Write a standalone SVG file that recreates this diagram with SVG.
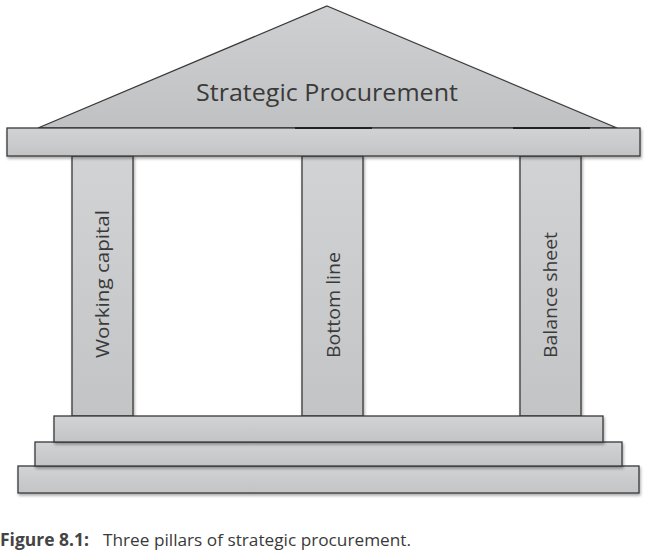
<svg xmlns="http://www.w3.org/2000/svg" width="648" height="550" viewBox="0 0 648 550">
<defs>
<linearGradient id="g" x1="0" y1="0" x2="0" y2="1">
<stop offset="0" stop-color="#d2d3d5"/>
<stop offset="1" stop-color="#c3c4c6"/>
</linearGradient>
<linearGradient id="gt" x1="0" y1="0" x2="0" y2="1">
<stop offset="0" stop-color="#cfd0d2"/>
<stop offset="1" stop-color="#c0c1c3"/>
</linearGradient>
<filter id="sh" x="-10%" y="-10%" width="120%" height="130%">
<feGaussianBlur in="SourceAlpha" stdDeviation="1.5"/>
<feOffset dx="1" dy="2" result="b"/>
<feComponentTransfer><feFuncA type="linear" slope="0.35"/></feComponentTransfer>
<feMerge><feMergeNode/><feMergeNode in="SourceGraphic"/></feMerge>
</filter>
</defs>
<style>
.s{fill:url(#g);stroke:#3a3a3a;stroke-width:1.3;filter:url(#sh)}
.t{font-family:"Open Sans","Liberation Sans",sans-serif;fill:#3a3a3a}
.p{font-family:"Open Sans","Liberation Sans",sans-serif;font-size:19px;fill:#3a3a3a}
</style>
<g id="roof">
<polygon points="327,6 617,128 38,128" fill="url(#gt)" stroke="#3a3a3a" stroke-width="1.3" filter="url(#sh)"/>
<text class="t" x="327" y="101" font-size="24" text-anchor="middle" textLength="262" lengthAdjust="spacingAndGlyphs">Strategic Procurement</text>
</g>
<g id="pillar-left">
<rect class="s" x="72" y="156" width="61" height="260"/>
<text class="p" transform="translate(109,358) rotate(-90)" textLength="148" lengthAdjust="spacingAndGlyphs">Working capital</text>
</g>
<g id="pillar-middle">
<rect class="s" x="302" y="156" width="61" height="260"/>
<text class="p" transform="translate(340,358) rotate(-90)" textLength="106" lengthAdjust="spacingAndGlyphs">Bottom line</text>
</g>
<g id="pillar-right">
<rect class="s" x="520" y="156" width="61" height="260"/>
<text class="p" transform="translate(557,358) rotate(-90)" textLength="126" lengthAdjust="spacingAndGlyphs">Balance sheet</text>
</g>
<g id="beam">
<rect class="s" x="7" y="128" width="633" height="28"/>
<line x1="295" y1="128" x2="372" y2="128" stroke="#222" stroke-width="2"/>
<line x1="513" y1="128" x2="590" y2="128" stroke="#222" stroke-width="2"/>
</g>
<g id="step-bottom">
<rect class="s" x="18" y="466" width="621" height="27"/>
</g>
<g id="step-middle">
<rect class="s" x="35" y="442" width="587" height="24"/>
</g>
<g id="step-top">
<rect class="s" x="54" y="416" width="549" height="26"/>
</g>
<g id="connectors"/>
<g id="caption">
<text class="t" x="0" y="546" font-size="17"><tspan font-weight="bold" fill="#444" textLength="89" lengthAdjust="spacingAndGlyphs">Figure 8.1:</tspan><tspan x="103" textLength="308" lengthAdjust="spacingAndGlyphs">Three pillars of strategic procurement.</tspan></text>
</g>
</svg>
